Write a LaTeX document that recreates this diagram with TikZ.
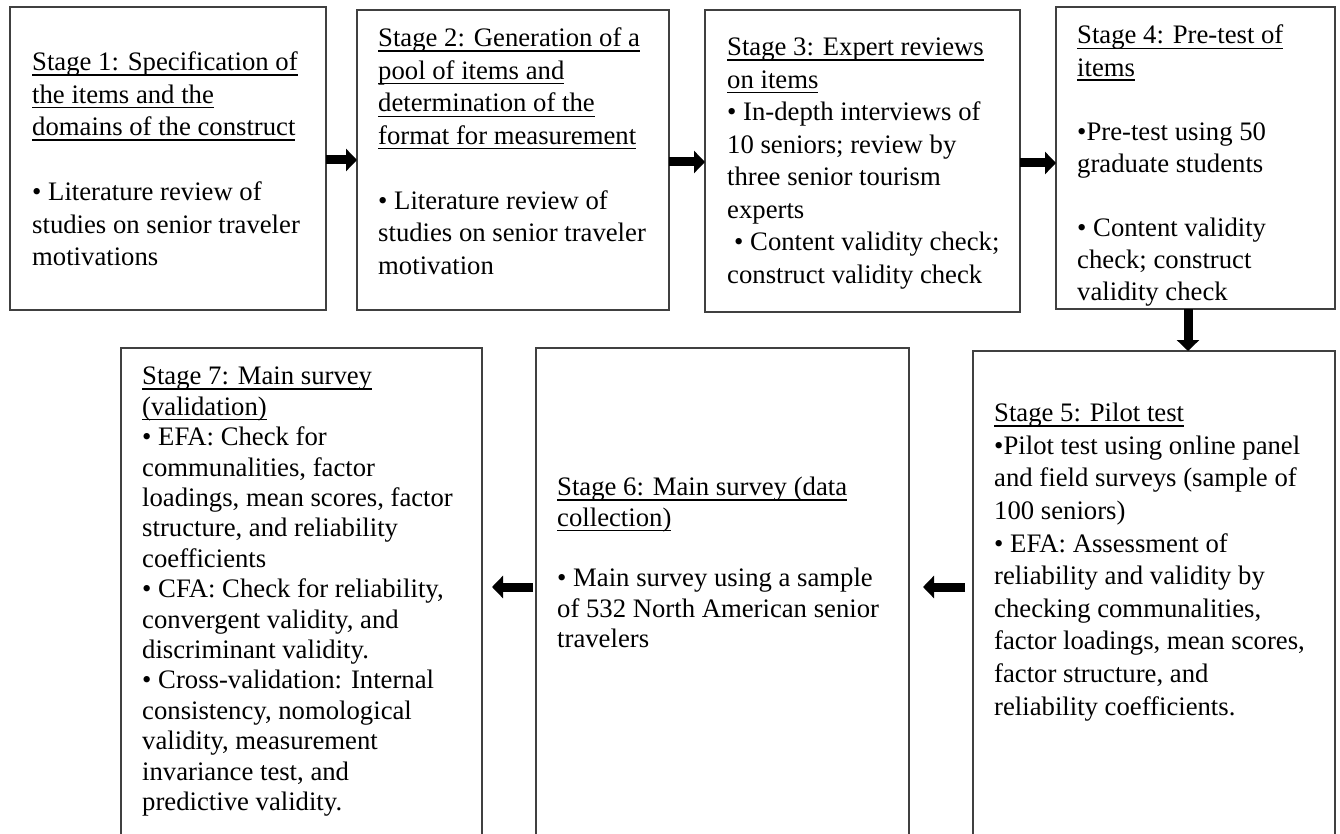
\documentclass[tikz,border=0pt]{standalone}
\usepackage{fontspec}
\setmainfont{Liberation Serif}
\newcommand{\ulstage}[1]{\setbox0\hbox{#1}\rlap{\rule[-4.8pt]{\wd0}{1.3pt}}\box0}
\usetikzlibrary{arrows.meta}

\begin{document}
\begin{tikzpicture}[x=1pt,y=-1pt,
  stagebox/.style={draw=black!75,line width=2pt,inner sep=0pt,outer sep=0pt,anchor=north west},
  stagetext/.style={anchor=north west,align=left,inner sep=0pt,font=\fontsize{26.7}{#1}\selectfont,
    execute at begin node=\rule{0pt}{24pt}},
  stagetext/.default=32.5,
  bigarrow/.style={line width=9pt,-{Triangle[width=22pt,length=11pt]}}]
\useasboundingbox (0,0) rectangle (1340,834);
\clip (0,0) rectangle (1340,834);

\node[stagebox,minimum width=316pt,minimum height=303pt] (s1) at (10,7) {};
\node[stagebox,minimum width=312pt,minimum height=300pt] (s2) at (357,10) {};
\node[stagebox,minimum width=315pt,minimum height=302pt] (s3) at (705,10) {};
\node[stagebox,minimum width=279pt,minimum height=302pt] (s4) at (1056,7) {};
\node[stagebox,minimum width=362pt,minimum height=560pt] (s5) at (973,351) {};
\node[stagebox,minimum width=373pt,minimum height=560pt] (s6) at (536,348) {};
\node[stagebox,minimum width=361pt,minimum height=560pt] (s7) at (121,348) {};

\node[stagetext] (t1) at ([shift={(22,45)}]s1.north west)
  {\ulstage{Stage 1: Specification of}\\ \ulstage{the items and the}\\ \ulstage{domains of the construct}\\[\baselineskip]•~Literature review of\\ studies on senior traveler\\ motivations};
\node[stagetext] (t2) at ([shift={(21,18)}]s2.north west)
  {\ulstage{Stage 2: Generation of a}\\ \ulstage{pool of items and}\\ \ulstage{determination of the}\\ \ulstage{format for measurement}\\[\baselineskip]•~Literature review of\\ studies on senior traveler\\ motivation};
\node[stagetext] (t3) at ([shift={(22,28)}]s3.north west)
  {\ulstage{Stage 3: Expert reviews}\\ \ulstage{on items}\\ • In-depth interviews of\\ 10 seniors; review by\\ three senior tourism\\ experts\\ \hspace*{7pt}• Content validity check;\\ construct validity check};
\node[stagetext=32] (t4) at ([shift={(21,18)}]s4.north west)
  {\ulstage{Stage 4: Pre-test of}\\ \ulstage{items}\\[\baselineskip]•Pre-test using 50\\ graduate students\\[\baselineskip]•~Content validity\\ check; construct\\ validity check};
\node[stagetext=32.6] (t5) at ([shift={(21,52)}]s5.north west)
  {\ulstage{Stage 5: Pilot test}\\ •Pilot test using online panel\\ and field surveys (sample of\\ 100 seniors)\\ • EFA: Assessment of\\ reliability and validity by\\ checking communalities,\\ factor loadings, mean scores,\\ factor structure, and\\ reliability coefficients.};
\node[stagetext=30.4] (t6) at ([shift={(21,129)}]s6.north west)
  {\ulstage{Stage 6: Main survey (data}\\ \ulstage{collection)}\\[\baselineskip]•~Main survey using a sample\\ of 532 North American senior\\ travelers};
\node[stagetext=30.4] (t7) at ([shift={(21,19)}]s7.north west)
  {\ulstage{Stage 7: Main survey}\\ \ulstage{(validation)}\\ • EFA: Check for\\ communalities, factor\\ loadings, mean scores, factor\\ structure, and reliability\\ coefficients\\ • CFA: Check for reliability,\\ convergent validity, and\\ discriminant validity.\\ • Cross-validation: Internal\\ consistency, nomological\\ validity, measurement\\ invariance test, and\\ predictive validity.};

\draw[bigarrow] (s1.east |- 0,160) -- (s2.west |- 0,160);
\draw[bigarrow] (s2.east |- 0,162) -- (s3.west |- 0,162);
\draw[bigarrow] (s3.east |- 0,163) -- (s4.west |- 0,163);
\draw[bigarrow] (1188,0 |- s4.south) -- (1188,0 |- s5.north);
\draw[bigarrow,shorten <=8pt,shorten >=14pt] (s5.west |- 0,587) -- (s6.east |- 0,587);
\draw[bigarrow,shorten <=3pt,shorten >=10pt] (s6.west |- 0,587) -- (s7.east |- 0,587);
\end{tikzpicture}
\end{document}
